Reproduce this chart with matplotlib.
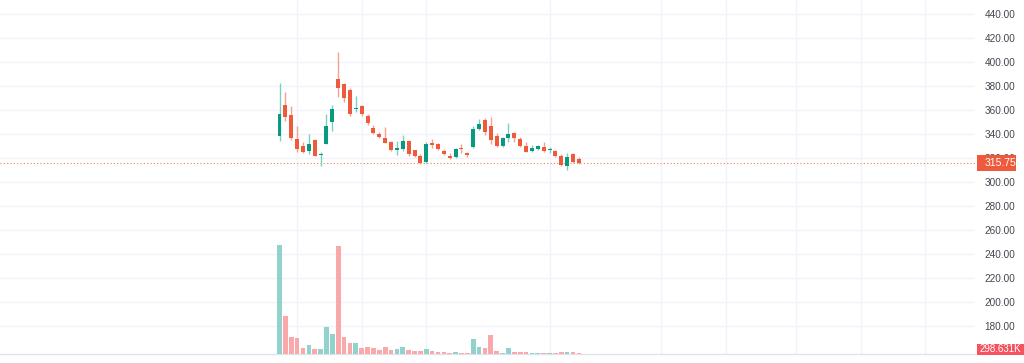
import matplotlib
matplotlib.use("Agg")
import matplotlib.pyplot as plt
from matplotlib.patches import Rectangle
import numpy as np

# ---------------- data ----------------
opens = [338.6, 364.0, 356.0, 335.8, 330.3, 325.8, 335.0, 322.5, 331.4, 349.7,
         385.8, 381.4, 376.5, 361.0, 363.3, 355.3, 345.3, 340.0, 336.7, 333.0,
         327.0, 327.5, 334.2, 326.4, 321.9, 316.4, 332.2, 331.7, 326.1, 321.7,
         320.6, 328.6, 323.9, 328.9, 344.2, 351.7, 346.9, 338.6, 330.3, 336.4,
         340.6, 335.8, 330.3, 325.8, 327.5, 329.2, 326.4, 325.8, 321.9, 313.6,
         323.1, 319.5]
highs = [382.5, 375.0, 363.0, 347.0, 333.6, 339.7, 335.8, 325.3, 357.0, 363.9,
         408.6, 382.2, 378.0, 371.5, 364.2, 356.4, 347.5, 341.4, 345.6, 334.4,
         334.2, 339.2, 334.7, 326.9, 323.3, 333.6, 336.1, 332.2, 327.8, 324.4,
         328.6, 331.7, 325.3, 346.9, 352.5, 353.6, 354.2, 340.6, 337.8, 349.4,
         341.4, 337.8, 333.1, 330.8, 331.1, 333.1, 328.9, 326.5, 323.3, 324.4,
         324.4, 320.5]
lows = [334.4, 351.0, 335.0, 324.7, 323.9, 323.6, 321.7, 313.3, 331.4, 342.8,
        371.1, 366.4, 355.0, 358.0, 355.3, 347.5, 339.7, 336.4, 332.2, 325.8,
        322.5, 325.8, 321.7, 320.8, 315.0, 316.0, 328.6, 326.7, 322.5, 319.4,
        319.7, 324.4, 321.1, 328.5, 343.3, 339.2, 331.4, 328.9, 329.5, 333.1,
        333.6, 329.4, 324.7, 325.0, 326.7, 325.0, 324.4, 321.0, 313.6, 310.0,
        315.5, 315.0]
closes = [356.7, 354.5, 336.5, 327.8, 325.3, 331.9, 321.9, 323.5, 346.7, 360.6,
          378.6, 369.7, 357.0, 362.0, 356.4, 348.9, 341.1, 337.5, 332.8, 326.7,
          328.0, 334.2, 323.1, 321.7, 315.6, 331.7, 330.8, 327.2, 323.3, 320.0,
          327.5, 327.2, 322.5, 344.2, 348.3, 342.0, 335.0, 330.3, 336.4, 339.7,
          336.4, 330.3, 325.3, 328.6, 330.0, 326.1, 327.0, 321.9, 314.2, 321.1,
          316.4, 315.75]
# volume in millions
volumes = [27.2, 9.6, 4.15, 4.0, 1.6, 2.15, 1.25, 1.3, 6.8, 4.9,
           27.1, 4.25, 2.8, 2.65, 1.6, 1.75, 1.6, 1.1, 1.75, 1.1,
           1.25, 1.75, 1.1, 0.75, 0.75, 1.3, 0.75, 0.58, 0.58, 0.33,
           0.58, 0.33, 0.33, 3.8, 1.75, 1.6, 4.75, 0.75, 0.33, 1.6,
           0.58, 0.58, 0.58, 0.33, 0.33, 0.33, 0.33, 0.33, 0.58, 0.58,
           0.4, 0.298631]
price_ticks = [180, 200, 220, 240, 260, 280, 300, 320, 340, 360, 380, 400, 420, 440]
vgrid_idx = [3, 14, 25, 46, 65, 76, 88, 99, 110]
last_volume_label = "298.631K"

# ---------------- style ----------------
UP = "#089981"
DOWN = "#f05a3c"
UP_WICK = "#7fcfbf"
DOWN_WICK = "#f6a08f"
VOL_UP = "#92d2cc"
VOL_DOWN = "#fba8ab"
GRID = "#f0f3fa"
TXT = "#434651"

W, H = 1024, 363
fig = plt.figure(figsize=(W / 100, H / 100), dpi=100)
fig.patch.set_facecolor("white")

ax_right_px = 975
ax_bottom_px = 354
rect = [0, (H - ax_bottom_px) / H, ax_right_px / W, ax_bottom_px / H]
ax = fig.add_axes(rect)
axv = fig.add_axes(rect, sharex=ax)
axv.patch.set_alpha(0)

n = len(opens)
x = np.arange(n)
o = np.array(opens); c = np.array(closes)
h = np.array(highs); l = np.array(lows)
up = c >= o

# pixel mapping: index 0 at x=279.5 px, step 5.87 px ; price 440 at y=14 px, 1.2 px/unit
step = 5.87
x0 = 279.5
ax.set_xlim(-x0 / step, (ax_right_px - x0) / step)
ytop = 440 + 14 / 1.2
ybot = 440 - (ax_bottom_px - 14) / 1.2
ax.set_ylim(ybot, ytop)

# wicks
ax.vlines(x[up], l[up], h[up], color=UP_WICK, lw=1.0, zorder=3)
ax.vlines(x[~up], l[~up], h[~up], color=DOWN_WICK, lw=1.0, zorder=3)
# bodies
bh = np.maximum(np.abs(c - o), 0.9)
bb = np.minimum(o, c)
ax.bar(x[up], bh[up], bottom=bb[up], width=0.68, color=UP, zorder=4, lw=0)
ax.bar(x[~up], bh[~up], bottom=bb[~up], width=0.68, color=DOWN, zorder=4, lw=0)

# last price dotted line
ax.axhline(closes[-1], color=DOWN, lw=0.8, ls=(0, (1, 2)), alpha=0.8, zorder=2)

# grid
ax.set_yticks(price_ticks)
ax.set_xticks(vgrid_idx)
ax.grid(True, color=GRID, lw=1.0, zorder=0)
ax.tick_params(axis="x", length=0, labelbottom=False)
ax.yaxis.tick_right()
ax.tick_params(axis="y", length=0, pad=7, labelsize=7.2, labelcolor=TXT)
ax.set_yticklabels([f"{t:.2f}" for t in price_ticks], family="Liberation Sans")
for s in ["top", "left", "right"]:
    ax.spines[s].set_visible(False)
ax.spines["bottom"].set_color("#e0e3eb")
ax.spines["bottom"].set_linewidth(1.0)

# volume
vol = np.array(volumes)
vcols = [VOL_UP if u else VOL_DOWN for u in up]
axv.bar(x, vol, width=0.8, color=vcols, lw=0, zorder=2)
axv.set_ylim(0, ax_bottom_px * 0.25)
axv.axis("off")

# last price / last volume labels
def px_rect(x1, y1, x2, y2, color):
    r = Rectangle((x1 / W, 1 - y2 / H), (x2 - x1) / W, (y2 - y1) / H,
                  transform=fig.transFigure, color=color, zorder=10, lw=0)
    fig.add_artist(r)

px_rect(977, 155, 1016, 170.5, DOWN)
fig.text(985 / W, 1 - 163 / H, f"{closes[-1]:.2f}", color="white", fontsize=7.5,
         family="Liberation Sans", va="center", ha="left", zorder=11)
px_rect(977, 343.5, 1024, 355, "#f7525f")
fig.text(979.5 / W, 1 - 349.5 / H, last_volume_label, color="white", fontsize=7.0,
         family="Liberation Sans", va="center", ha="left", zorder=11)

fig.savefig("out.png", dpi=100, facecolor="white")
